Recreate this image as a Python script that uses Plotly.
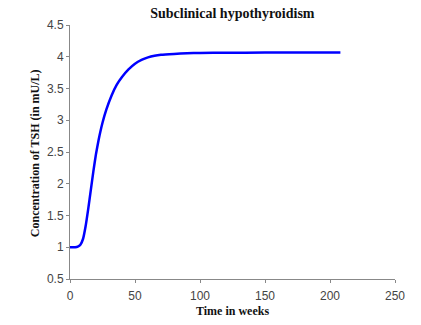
import plotly.graph_objects as go

# time (weeks) and TSH concentration (mU/L)
weeks = [0, 4, 6, 8, 10, 12, 14, 16, 18, 20, 22, 25, 28, 32, 36, 40, 45, 50,
         55, 60, 65, 70, 80, 90, 100, 120, 150, 180, 208]
tsh = [1.00, 1.00, 1.01, 1.04, 1.13, 1.33, 1.60, 1.90, 2.20, 2.47, 2.69, 2.96,
       3.17, 3.39, 3.56, 3.68, 3.80, 3.89, 3.95, 3.99, 4.015, 4.03, 4.045, 4.055,
       4.06, 4.063, 4.065, 4.065, 4.065]

x_ticks = [0, 50, 100, 150, 200, 250]
y_ticks = [0.5, 1, 1.5, 2, 2.5, 3, 3.5, 4, 4.5]

tick_font = dict(family="Liberation Sans, Arial", size=12, color="#444444")
title_font = dict(family="Liberation Serif, Times New Roman", size=12, color="#111111")

fig = go.Figure()
fig.add_trace(go.Scatter(
    x=weeks, y=tsh, mode="lines",
    line=dict(color="#0000ff", width=2.5, shape="spline", smoothing=0.4),
    showlegend=False,
))

fig.update_layout(
    width=421, height=325,
    margin=dict(l=70, r=26, t=25, b=46),
    paper_bgcolor="white", plot_bgcolor="white",
    title=dict(text="<b>Subclinical hypothyroidism</b>", x=0.552, xanchor="center",
               y=0.96, yanchor="middle",
               font=dict(family="Liberation Serif, Times New Roman", size=14, color="#111111")),
    xaxis=dict(range=[0, 250], tickvals=x_ticks, showgrid=False, zeroline=False,
               showline=True, linecolor="#888888", linewidth=1,
               ticks="outside", ticklen=3, tickcolor="#888888",
               tickfont=tick_font, ticklabelstandoff=3, automargin=False),
    yaxis=dict(range=[0.5, 4.5], tickvals=y_ticks, showgrid=False, zeroline=False,
               showline=True, linecolor="#888888", linewidth=1,
               ticks="outside", ticklen=3, tickcolor="#888888",
               tickfont=tick_font, automargin=False),
    annotations=[
        dict(text="<b>Time in weeks</b>", xref="paper", yref="paper",
             x=0.5, y=-0.125, xanchor="center", yanchor="middle",
             showarrow=False, font=title_font),
        dict(text="<b>Concentration of TSH (in mU/L)</b>", xref="paper", yref="paper",
             x=-0.108, y=0.495, xanchor="center", yanchor="middle", textangle=-90,
             showarrow=False, font=title_font),
    ],
)

# the default page keeps the browser's 8px body margin; drop it
fig.write_html("out.html", config={"displayModeBar": False},
               post_script="document.body.style.margin='0';")
